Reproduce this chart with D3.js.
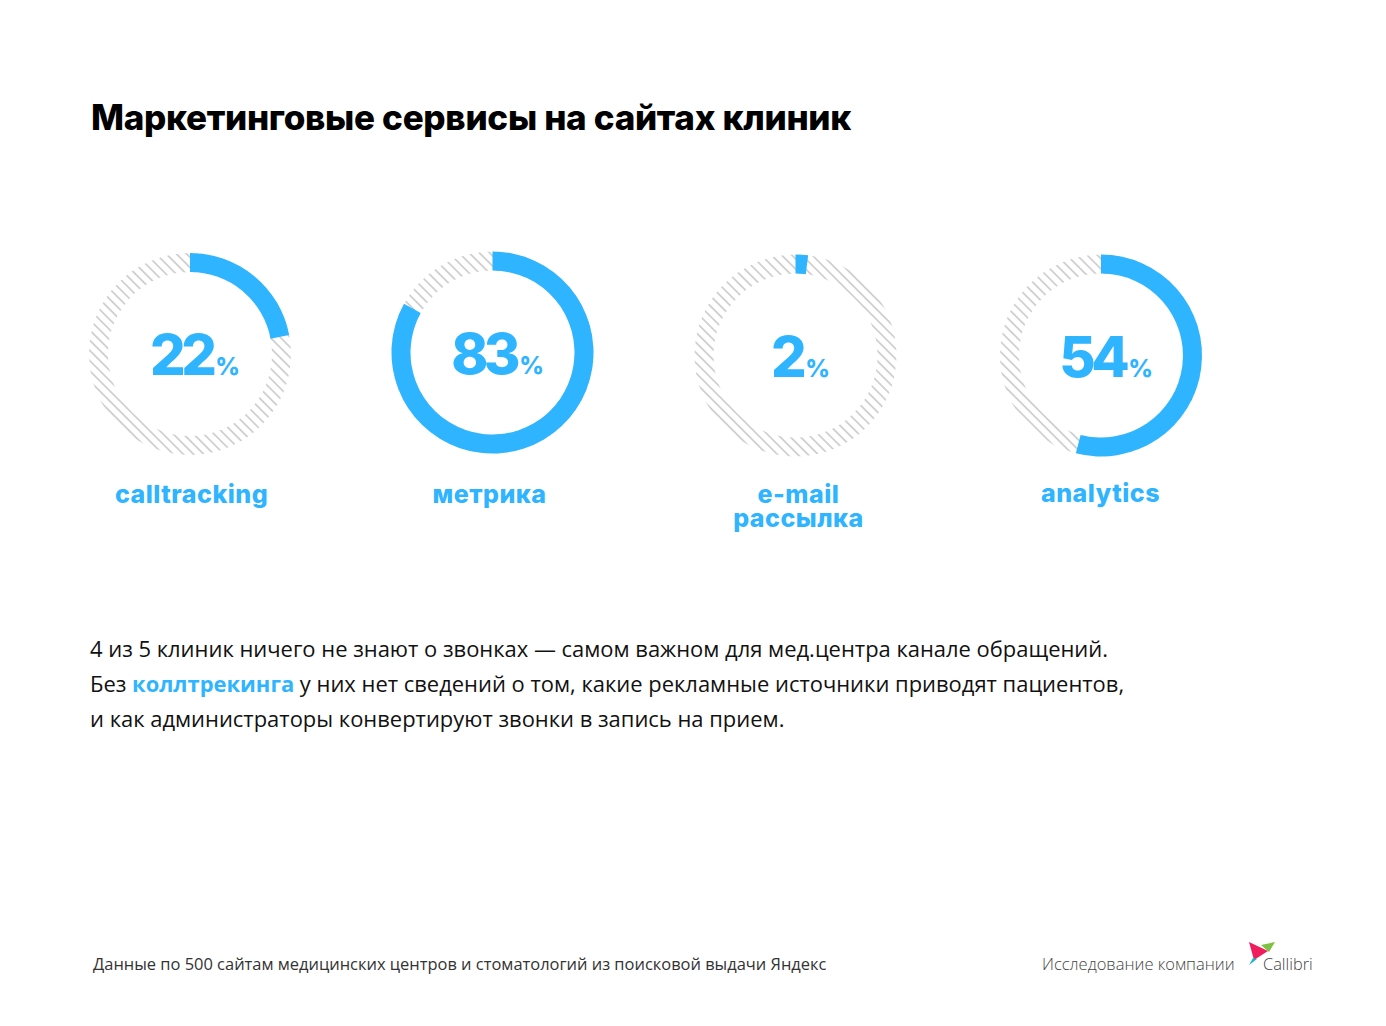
<!DOCTYPE html>
<html>
<head>
<meta charset="utf-8">
<script src="https://cdn.jsdelivr.net/npm/d3@7"></script>
<style>
  html, body { margin: 0; padding: 0; background: #fff; }
  svg { display: block; }
  .head { font-family: Inter, sans-serif; font-weight: 800; }
  .body { font-family: "Open Sans", sans-serif; }
</style>
</head>
<body>
<div id="vis"></div>
<script>
// chart values
var services = ["calltracking", "метрика", "e-mail рассылка", "analytics"];
var percents = [22, 83, 2, 54];
var labelLines = [["calltracking"], ["метрика"], ["e-mail", "рассылка"], ["analytics"]];

var titleText = "Маркетинговые сервисы на сайтах клиник";
var noteLines = [
  [["4 из 5 клиник ничего не знают о звонках — самом важном для мед.центра канале обращений.", false]],
  [["Без ", false], ["коллтрекинга", true], [" у них нет сведений о том, какие рекламные источники приводят пациентов,", false]],
  [["и как администраторы конвертируют звонки в запись на прием.", false]]
];
var sourceText = "Данные по 500 сайтам медицинских центров и стоматологий из поисковой выдачи Яндекс";
var creditText = "Исследование компании";
var brandText = "Callibri";

var width = 1386;
var height = 1026;
var blue = "#2fb4ff";

// ring layout
var centerX = [190, 492.5, 795.5, 1101];
var centerY = [354, 352.5, 355.5, 355.5];
var labelX = [191.5, 489.5, 798.5, 1100.5];
var labelY = [503, 503, 503, 502];
var outerR = 101;
var innerR = 82;

var svg = d3.select("#vis").append("svg")
  .attr("width", width)
  .attr("height", height);

// hatch for the empty part of the ring
var pattern = svg.append("defs").append("pattern")
  .attr("id", "hatch")
  .attr("patternUnits", "userSpaceOnUse")
  .attr("width", 7.2)
  .attr("height", 7.2)
  .attr("patternTransform", "rotate(45)");
pattern.append("line")
  .attr("x1", 0).attr("y1", 3.6)
  .attr("x2", 7.2).attr("y2", 3.6)
  .attr("stroke", "#b8b8b8")
  .attr("stroke-width", 1.2);

svg.append("text")
  .attr("class", "head")
  .attr("x", 91)
  .attr("y", 129.5)
  .attr("font-size", 35)
  .attr("letter-spacing", -0.3)
  .attr("fill", "#000")
  .text(titleText);

var angle = d3.scaleLinear().domain([0, 100]).range([0, 2 * Math.PI]);
var arc = d3.arc().innerRadius(innerR).outerRadius(outerR);

var rings = svg.selectAll(".ring")
  .data(percents)
  .enter()
  .append("g")
  .attr("class", "ring")
  .attr("transform", function(d, i) {
    return "translate(" + centerX[i] + "," + centerY[i] + ")";
  });

rings.append("path")
  .attr("fill", "url(#hatch)")
  .attr("d", function() {
    return arc({ startAngle: 0, endAngle: 2 * Math.PI });
  });

rings.append("path")
  .attr("fill", blue)
  .attr("d", function(d) {
    return arc({ startAngle: 0, endAngle: angle(d) });
  });

// number with a small percent sign
var nums = rings.append("text")
  .attr("class", "head")
  .attr("fill", blue)
  .attr("text-anchor", "middle")
  .attr("x", 5)
  .attr("y", 21);
nums.append("tspan")
  .attr("font-size", 56)
  .attr("letter-spacing", -4.5)
  .text(function(d) { return d; });
nums.append("tspan")
  .attr("dx", 3)
  .attr("font-size", 24)
  .text("%");

// labels under the rings
svg.selectAll(".label")
  .data(labelLines)
  .enter()
  .append("text")
  .attr("class", "label head")
  .attr("fill", blue)
  .attr("font-size", 25)
  .attr("letter-spacing", 0.5)
  .attr("text-anchor", "middle")
  .attr("transform", function(d, i) {
    return "translate(" + labelX[i] + "," + labelY[i] + ")";
  })
  .selectAll("tspan")
  .data(function(d) { return d; })
  .enter()
  .append("tspan")
  .attr("x", 0)
  .attr("y", function(d, i) { return i * 24; })
  .text(function(d) { return d; });

// note under the chart
var note = svg.selectAll(".note")
  .data(noteLines)
  .enter()
  .append("text")
  .attr("class", "note body")
  .attr("x", 90)
  .attr("y", function(d, i) { return 657 + i * 35; })
  .attr("font-size", 21.95)
  .attr("fill", "#111");
note.selectAll("tspan")
  .data(function(d) { return d; })
  .enter()
  .append("tspan")
  .attr("fill", function(d) { return d[1] ? blue : null; })
  .attr("font-weight", function(d) { return d[1] ? 700 : null; })
  .text(function(d) { return d[0]; });

svg.append("text")
  .attr("class", "body")
  .attr("x", 93)
  .attr("y", 970)
  .attr("font-size", 16.45)
  .attr("fill", "#333")
  .text(sourceText);

svg.append("text")
  .attr("class", "body")
  .attr("x", 1042)
  .attr("y", 970)
  .attr("font-size", 16.5)
  .attr("font-weight", 300)
  .attr("fill", "#444")
  .text(creditText);

svg.append("text")
  .attr("class", "body")
  .attr("x", 1263)
  .attr("y", 970)
  .attr("font-size", 16.4)
  .attr("font-weight", 300)
  .attr("fill", "#444")
  .text(brandText);

// bird logo
var logo = svg.append("g");
logo.append("polygon").attr("points", "1261,945 1275,942 1269,952").attr("fill", "#7fc241");
logo.append("polygon").attr("points", "1249,942 1268,951 1254,960").attr("fill", "#ef1d5e");
logo.append("polygon").attr("points", "1249,965 1253,958 1257,959").attr("fill", "#1fb3c4");
</script>
</body>
</html>
